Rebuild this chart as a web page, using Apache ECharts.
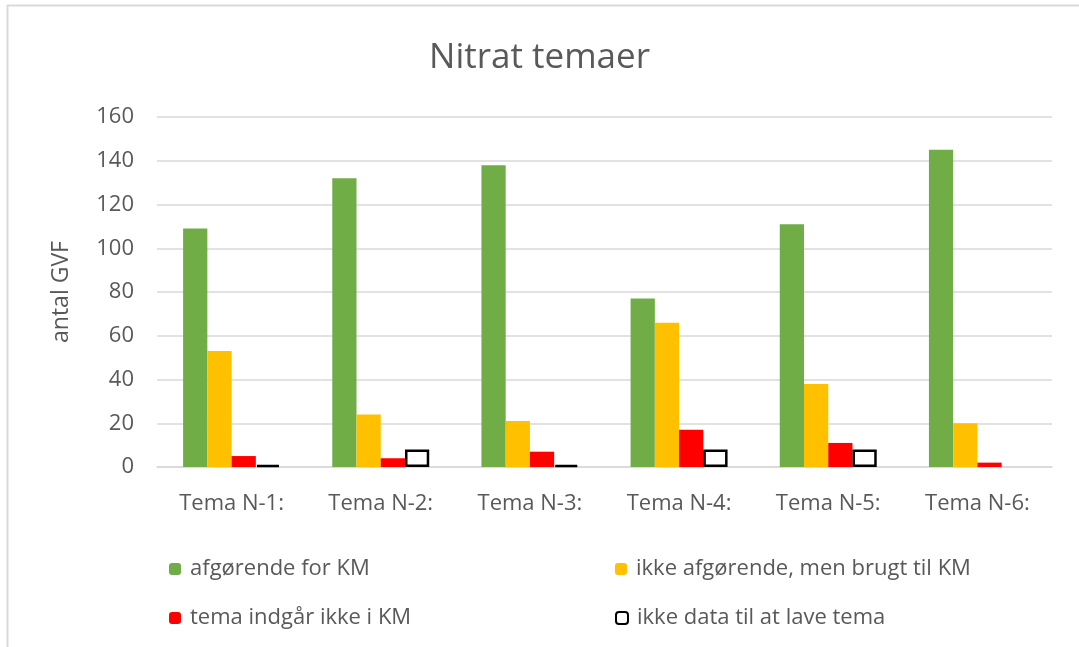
<!DOCTYPE html>
<html>
<head>
<meta charset="utf-8">
<script src="https://cdn.jsdelivr.net/npm/echarts@6/dist/echarts.min.js"></script>
<style>
  html, body { margin: 0; padding: 0; background: #fff; }
  #main { width: 1079px; height: 647px; }
</style>
</head>
<body>
<div id="main"></div>
<script>
var categories = ['Tema N-1:', 'Tema N-2:', 'Tema N-3:', 'Tema N-4:', 'Tema N-5:', 'Tema N-6:'];
var seriesNames = ['afgørende for KM', 'ikke afgørende, men brugt til KM', 'tema indgår ikke i KM', 'ikke data til at lave tema'];
var afgoerende = [109, 132, 138, 77, 111, 145];
var ikkeAfgoerende = [53, 24, 21, 66, 38, 20];
var ikkeIKM = [5, 4, 7, 17, 11, 2];
var ikkeData = [1, 8, 1, 8, 8, 0];
var yTicks = [0, 20, 40, 60, 80, 100, 120, 140, 160];

var FONT = '"Open Sans", "Noto Sans", sans-serif';
var TXT = '#595959';

var chart = echarts.init(document.getElementById('main'), null, { renderer: 'canvas' });

function legendAt(name, left, top) {
  return {
    data: [name],
    left: left, top: top,
    itemWidth: 12, itemHeight: 12,
    textStyle: { fontFamily: FONT, fontSize: 22, color: TXT, padding: [0, 0, 0, 4] },
    selectedMode: false
  };
}

var option = {
  backgroundColor: '#fff',
  animation: false,
  title: {
    text: 'Nitrat temaer',
    left: 'center', top: 36,
    textStyle: { fontFamily: FONT, fontSize: 35, fontWeight: 'normal', color: TXT }
  },
  legend: [
    legendAt(seriesNames[0], 164, 553),
    legendAt(seriesNames[1], 610, 553),
    legendAt(seriesNames[2], 164, 602),
    legendAt(seriesNames[3], 610, 602)
  ],
  grid: { left: 157, right: 27, top: 117, bottom: 180 },
  xAxis: {
    type: 'category',
    data: categories,
    axisLine: { lineStyle: { color: '#d9d9d9', width: 1.5 } },
    axisTick: { show: false },
    axisLabel: { fontFamily: FONT, fontSize: 22, color: TXT, margin: 26 }
  },
  yAxis: {
    type: 'value',
    min: yTicks[0], max: yTicks[yTicks.length - 1], interval: 20,
    name: 'antal GVF',
    nameLocation: 'middle',
    nameGap: 84,
    nameTextStyle: { fontFamily: FONT, fontSize: 23, color: TXT },
    axisLine: { show: false },
    axisTick: { show: false },
    axisLabel: { fontFamily: FONT, fontSize: 22, color: TXT, margin: 23 },
    splitLine: { lineStyle: { color: '#d9d9d9', width: 1.5 } }
  },
  series: [
    { name: seriesNames[0], type: 'bar', data: afgoerende, barGap: '0%', barCategoryGap: '35%',
      itemStyle: { color: '#70AD47' } },
    { name: seriesNames[1], type: 'bar', data: ikkeAfgoerende,
      itemStyle: { color: '#FFC000' } },
    { name: seriesNames[2], type: 'bar', data: ikkeIKM,
      itemStyle: { color: '#FF0000' } },
    // zero values are left empty so no outline is drawn
    { name: seriesNames[3], type: 'bar', data: ikkeData.map(function (v) { return v === 0 ? '-' : v; }),
      itemStyle: { color: '#ffffff', borderColor: '#000000', borderWidth: 2.5 } }
  ],
  graphic: [
    { type: 'line', shape: { x1: 7, y1: 5.5, x2: 1079, y2: 5.5 }, style: { stroke: '#d9d9d9', lineWidth: 2 } },
    { type: 'line', shape: { x1: 7.5, y1: 5, x2: 7.5, y2: 647 }, style: { stroke: '#d9d9d9', lineWidth: 2 } }
  ]
};

chart.setOption(option);
</script>
</body>
</html>
